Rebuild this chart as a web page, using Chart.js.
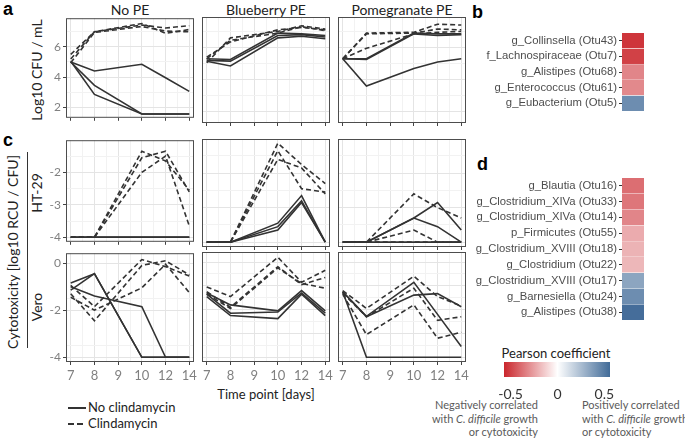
<!DOCTYPE html>
<html>
<head>
<meta charset="utf-8">
<script src="https://cdn.jsdelivr.net/npm/chart.js@4.4.1/dist/chart.umd.min.js"></script>
<style>
  body { margin: 0; width: 685px; height: 438px; position: relative; background: #fff; overflow: hidden; font-family: Lato, sans-serif; }
  canvas { position: absolute; }
  .t { position: absolute; white-space: nowrap; line-height: 1; }
  .c { transform: translate(-50%, -50%); }
  .r { transform: translate(-50%, -50%) rotate(-90deg); }
  .tag { font-family: "Liberation Sans", Arial, sans-serif; font-weight: bold; font-size: 18px; color: #000; }
  .note { position: absolute; font-size: 11px; line-height: 13.5px; color: #5a5a5a; white-space: nowrap; }
</style>
</head>
<body>

<div class="t tag" style="left:3px;top:0px">a</div>
<div class="t tag" style="left:472px;top:3px">b</div>
<div class="t tag" style="left:3px;top:131px">c</div>
<div class="t tag" style="left:477px;top:155px">d</div>

<div class="t c" style="left:130px;top:10px;font-size:14px;color:#222">No PE</div>
<div class="t c" style="left:266px;top:10px;font-size:14px;color:#222">Blueberry PE</div>
<div class="t c" style="left:402px;top:10px;font-size:14px;color:#222">Pomegranate PE</div>

<div class="t r" style="left:37px;top:70px;font-size:14px;color:#222">Log10 CFU / mL</div>
<div class="t r" style="left:13px;top:252px;font-size:14px;color:#222">Cytotoxicity [log10 RCU / CFU]</div>
<div style="position:absolute;left:27px;top:152px;width:1px;height:196px;background:#333"></div>
<div class="t r" style="left:37px;top:193px;font-size:14px;color:#222">HT-29</div>
<div class="t r" style="left:37px;top:307px;font-size:14px;color:#222">Vero</div>

<div class="t c" style="left:266px;top:394px;font-size:13px;color:#222">Time point [days]</div>

<svg style="position:absolute;left:66px;top:400px" width="22" height="32">
  <line x1="2" y1="8" x2="20" y2="8" stroke="#333" stroke-width="2"/>
  <line x1="2" y1="24" x2="20" y2="24" stroke="#333" stroke-width="2" stroke-dasharray="6,3"/>
</svg>
<div class="t" style="left:88px;top:401px;font-size:13px;color:#222">No clindamycin</div>
<div class="t" style="left:88px;top:417px;font-size:13px;color:#222">Clindamycin</div>

<div class="t c" style="left:556px;top:353px;font-size:13px;color:#222">Pearson coefficient</div>
<div class="note" style="left:400px;width:138px;top:398px;text-align:right">Negatively correlated<br>with <i>C. difficile</i> growth<br>or cytotoxicity</div>
<div class="note" style="left:582px;top:398px">Positively correlated<br>with <i>C. difficile</i> growth<br>or cytotoxicity</div>

<script>
const days = ['7', '8', '9', '10', '12', '14'];

// a: growth, log10 CFU/mL (null = no sample on day 9)
const cfuNoPE_noClin = [[5.0, 4.4, null, 4.85, 3.95, 3.05], [5.0, 3.45, null, 1.55, 1.55, 1.55], [5.05, 2.85, null, 1.55, 1.55, 1.55]];
const cfuNoPE_clin = [[5.5, 7.0, null, 7.45, 7.25, 7.4], [5.2, 7.0, null, 7.55, 6.9, 7.15], [4.95, 6.95, null, 7.35, 7.05, 7.0]];
const cfuBlue_noClin = [[5.3, 5.25, null, 6.9, 6.85, 6.75], [5.2, 5.15, null, 6.75, 6.8, 6.65], [5.15, 4.85, null, 6.6, 6.7, 6.55]];
const cfuBlue_clin = [[5.05, 6.6, null, 7.0, 7.35, 7.15], [5.3, 6.45, null, 6.9, 7.3, 7.05], [5.4, 6.35, null, 7.1, 7.25, 7.1]];
const cfuPom_noClin = [[5.3, 5.25, null, 6.85, 6.75, 6.8], [5.3, 5.3, null, 6.9, 6.85, 6.85], [5.3, 3.6, null, 4.7, 5.1, 5.3]];
const cfuPom_clin = [[5.3, 6.9, null, 6.95, 7.45, 7.4], [5.3, 6.85, null, 6.9, 7.15, 7.1], [5.3, 5.95, null, 6.85, 6.95, 7.0]];

// c: cytotoxicity on HT-29 cells
const ht29NoPE_noClin = [[-4, -4, null, -4, -4, -4], [-4, -4, null, -4, -4, -4], [-4, -4, null, -4, -4, -4]];
const ht29NoPE_clin = [[-4, -4, null, -1.35, -1.65, -2.55], [-4, -4, null, -1.55, -1.35, -2.6], [-4, -4, null, -2.0, -1.5, -3.65]];
const ht29Blue_noClin = [[-4, -4, null, -3.45, -2.65, -4], [-4, -4, null, -3.55, -2.8, -4], [-4, -4, null, -3.65, -2.85, -4]];
const ht29Blue_clin = [[-4, -4, null, -1.13, -1.75, -2.3], [-4, -4, null, -1.6, -1.85, -2.6], [-4, -4, null, -1.35, -2.45, -2.55]];
const ht29Pom_noClin = [[-4, -4, null, -3.3, -2.85, -3.65], [-4, -4, null, -3.3, -3.55, -4], [-4, -4, null, -4, -4, -4]];
const ht29Pom_clin = [[-4, -4, null, -2.6, -3.0, -3.3], [-4, -4, null, -3.65, -4, -4], [-4, -4, null, -4, -4, -4]];

// c: cytotoxicity on Vero cells
const veroNoPE_noClin = [[-0.85, -0.45, null, -4, -4, -4], [-1.15, -0.45, null, -4, -4, -4], [-1.0, -1.4, null, -1.85, -4, -4]];
const veroNoPE_clin = [[-0.95, -1.85, null, 0.15, -0.15, -0.55], [-1.3, -2.45, null, -0.1, 0.1, -0.5], [-1.45, -2.0, null, -1.05, -0.05, -1.25]];
const veroBlue_noClin = [[-1.3, -1.8, null, -2.05, -1.2, -2.05], [-1.35, -2.15, null, -2.1, -1.3, -2.15], [-1.45, -2.25, null, -2.38, -1.35, -2.25]];
const veroBlue_clin = [[-1.05, -1.45, null, 0.2, -0.85, -0.35], [-1.25, -1.9, null, -0.2, -0.95, -0.65], [-1.35, -1.95, null, -0.25, -0.9, -1.1]];
const veroPom_noClin = [[-1.25, -2.28, null, -0.85, -2.2, -3.55], [-1.25, -2.3, null, -1.39, -1.33, -1.88], [-1.25, -4, null, -4, -4, -4]];
const veroPom_clin = [[-1.2, -1.95, null, -0.6, -1.45, -1.85], [-1.3, -2.3, null, -1.1, -2.45, -2.3], [-1.35, -3.05, null, -1.8, -3.2, -2.95]];

// b, d: Pearson correlations
const otuB = ['g_Collinsella (Otu43)', 'f_Lachnospiraceae (Otu7)', 'g_Alistipes (Otu68)', 'g_Enterococcus (Otu61)', 'g_Eubacterium (Otu5)'];
const pearsonB = [-0.53, -0.5, -0.32, -0.31, 0.43];
const otuD = ['g_Blautia (Otu16)', 'g_Clostridium_XIVa (Otu33)', 'g_Clostridium_XIVa (Otu14)', 'p_Firmicutes (Otu55)', 'g_Clostridium_XVIII (Otu18)', 'g_Clostridium (Otu22)', 'g_Clostridium_XVIII (Otu17)', 'g_Barnesiella (Otu24)', 'g_Alistipes (Otu38)'];
const pearsonD = [-0.38, -0.36, -0.32, -0.22, -0.2, -0.19, 0.34, 0.43, 0.55];
const cbRange = [-0.57, 0.56];
const cbTicks = [-0.5, 0, 0.5];

const LOW = [202, 38, 44], HIGH = [62, 104, 150];
function fillColor(v) {
  const t = Math.min(1, Math.abs(v) / 0.57);
  const e = v < 0 ? LOW : HIGH;
  const c = e.map(k => Math.round(255 + (k - 255) * t));
  return `rgb(${c[0]},${c[1]},${c[2]})`;
}

const P = 8;
const frame = {
  id: 'frame',
  afterDraw(c) {
    const a = c.chartArea, g = c.ctx;
    g.save();
    g.strokeStyle = '#4d4d4d';
    g.lineWidth = 1;
    g.strokeRect(a.left + 0.5, a.top + 0.5, a.right - a.left - 1, a.bottom - a.top - 1);
    g.restore();
  }
};

function addCanvas(left, top, w, h) {
  const cv = document.createElement('canvas');
  cv.width = w; cv.height = h;
  cv.style.left = left + 'px'; cv.style.top = top + 'px';
  document.body.appendChild(cv);
  return cv;
}

function lineSet(vals, dash) {
  return {
    data: vals.map((y, i) => ({ x: i, y: y })),
    borderColor: '#333', borderWidth: 1.6, borderDash: dash,
    pointRadius: 0, tension: 0, fill: false, spanGaps: true
  };
}

const isMajor = (v, majors) => majors.includes(v);

function panel(box, yMin, yMax, majors, minors, solid, dashed, firstCol, lastRow) {
  const wy = firstCol ? 30 : 0;
  const hx = lastRow ? 24 : 4;
  const cv = addCanvas(box.x - wy - P, box.y - P, box.w + wy + 2 * P, box.h + P + hx);
  const xTicks = [0, 0.5, 1, 1.5, 2, 2.5, 3, 3.5, 4, 4.5, 5];
  const yTicks = majors.concat(minors);
  new Chart(cv, {
    type: 'line',
    data: { datasets: solid.map(s => lineSet(s, [])).concat(dashed.map(s => lineSet(s, [5, 3]))) },
    options: {
      responsive: false, animation: false, devicePixelRatio: 1,
      layout: { padding: { left: P, right: P, top: P, bottom: 0 } },
      plugins: { legend: { display: false }, tooltip: { enabled: false } },
      scales: {
        x: {
          type: 'linear', min: -0.2, max: 5.2,
          afterBuildTicks: s => { s.ticks = xTicks.map(v => ({ value: v })); },
          afterFit: s => { s.height = hx; },
          border: { display: false },
          grid: {
            color: c => Number.isInteger(c.tick.value) ? '#e4e4e4' : '#f2f2f2',
            tickColor: c => Number.isInteger(c.tick.value) ? '#444' : 'rgba(0,0,0,0)',
            tickLength: 3
          },
          ticks: {
            autoSkip: false, maxRotation: 0, padding: 3,
            color: '#808080', font: { family: 'Lato', size: 13 },
            callback: v => (lastRow && Number.isInteger(v)) ? days[v] : ''
          }
        },
        y: {
          type: 'linear', min: yMin, max: yMax,
          afterBuildTicks: s => { s.ticks = yTicks.map(v => ({ value: v })); },
          afterFit: s => { s.width = wy; },
          border: { display: false },
          grid: {
            color: c => isMajor(c.tick.value, majors) ? '#e4e4e4' : '#f2f2f2',
            tickColor: c => isMajor(c.tick.value, majors) ? '#444' : 'rgba(0,0,0,0)',
            tickLength: 3, drawTicks: firstCol
          },
          ticks: {
            display: firstCol, padding: 2,
            color: '#808080', font: { family: 'Lato', size: 12 },
            callback: v => isMajor(v, majors) ? String(v) : ''
          }
        }
      }
    },
    plugins: [frame]
  });
}

const colX = [66, 202, 338], colW = 128;
const rowA = { y: 17, h: 106 }, rowH = { y: 139, h: 108 }, rowV = { y: 252, h: 110 };
const cfu = [[cfuNoPE_noClin, cfuNoPE_clin], [cfuBlue_noClin, cfuBlue_clin], [cfuPom_noClin, cfuPom_clin]];
const ht29 = [[ht29NoPE_noClin, ht29NoPE_clin], [ht29Blue_noClin, ht29Blue_clin], [ht29Pom_noClin, ht29Pom_clin]];
const vero = [[veroNoPE_noClin, veroNoPE_clin], [veroBlue_noClin, veroBlue_clin], [veroPom_noClin, veroPom_clin]];

for (let i = 0; i < 3; i++) {
  panel({ x: colX[i], y: rowA.y, w: colW, h: rowA.h }, 1.3, 7.9, [2, 4, 6], [3, 5, 7], cfu[i][0], cfu[i][1], i === 0, false);
  panel({ x: colX[i], y: rowH.y, w: colW, h: rowH.h }, -4.14, -1.01, [-4, -3, -2], [-3.5, -2.5, -1.5], ht29[i][0], ht29[i][1], i === 0, false);
  panel({ x: colX[i], y: rowV.y, w: colW, h: rowV.h }, -4.2, 0.42, [0, -1, -2, -3, -4], [-0.5, -1.5, -2.5, -3.5], vero[i][0], vero[i][1], i === 0, true);
}

function heat(box, names, vals) {
  const W = 175;
  const cv = addCanvas(box.x - W, box.y - P, W + box.w + P, box.h + 2 * P);
  new Chart(cv, {
    type: 'bar',
    data: {
      labels: names,
      datasets: [{
        data: vals.map(() => [0, 1]),
        backgroundColor: vals.map(fillColor),
        borderColor: 'rgba(255,255,255,0.35)', borderWidth: { top: 0.5, bottom: 0.5 },
        barPercentage: 1, categoryPercentage: 1
      }]
    },
    options: {
      indexAxis: 'y', responsive: false, animation: false, devicePixelRatio: 1,
      layout: { padding: { left: 0, right: P, top: P, bottom: P } },
      plugins: { legend: { display: false }, tooltip: { enabled: false } },
      scales: {
        x: { display: false, min: 0, max: 1 },
        y: {
          afterFit: s => { s.width = W; },
          border: { display: false },
          grid: { drawOnChartArea: false, offset: false, tickLength: 3, tickColor: '#333' },
          ticks: { autoSkip: false, padding: 2, color: '#4d4d4d', font: { family: 'Liberation Sans', size: 11.3 } }
        }
      }
    }
  });
}

heat({ x: 622, y: 32, w: 22, h: 80 }, otuB, pearsonB);
heat({ x: 622, y: 177, w: 22, h: 144 }, otuD, pearsonD);

// colour bar
(function () {
  const box = { x: 504, y: 362, w: 106, h: 15 };
  const cv = addCanvas(box.x - P, box.y - P, box.w + 2 * P, box.h + P + 22);
  const zero = (0 - cbRange[0]) / (cbRange[1] - cbRange[0]);
  new Chart(cv, {
    type: 'bar',
    data: {
      labels: [''],
      datasets: [{
        data: [cbRange],
        barPercentage: 1, categoryPercentage: 1, borderWidth: 0,
        backgroundColor: c => {
          const a = c.chart.chartArea;
          if (!a) return '#fff';
          const g = c.chart.ctx.createLinearGradient(a.left, 0, a.right, 0);
          g.addColorStop(0, fillColor(cbRange[0]));
          g.addColorStop(zero, '#ffffff');
          g.addColorStop(1, fillColor(cbRange[1]));
          return g;
        }
      }]
    },
    options: {
      indexAxis: 'y', responsive: false, animation: false, devicePixelRatio: 1,
      layout: { padding: { left: P, right: P, top: P, bottom: 0 } },
      plugins: { legend: { display: false }, tooltip: { enabled: false } },
      scales: {
        x: {
          min: cbRange[0], max: cbRange[1],
          afterBuildTicks: s => { s.ticks = cbTicks.map(v => ({ value: v })); },
          afterFit: s => { s.height = 22; },
          border: { display: false },
          grid: { display: false },
          ticks: { padding: 1, color: '#333', font: { family: 'Lato', size: 14 }, callback: v => String(v) }
        },
        y: { display: false }
      }
    }
  });
})();
</script>
</body>
</html>
